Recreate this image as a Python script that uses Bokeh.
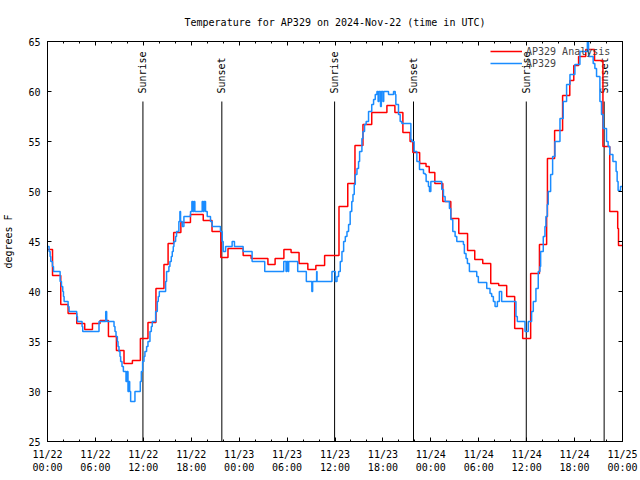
import math
from bokeh.plotting import figure
from bokeh.models import (FixedTicker, LinearAxis, Range1d, Legend, LegendItem,
                          CustomJSTickFormatter)
from bokeh.core.properties import value
from bokeh.embed import file_html
from bokeh.resources import INLINE

# ---------------- data (hours since 2024-11-22 00:00 UTC, degrees F) ----------------
title_text = "Temperature for AP329 on 2024-Nov-22 (time in UTC)"

analysis_hours = [
    0.0, 0.63, 1.66, 2.58, 3.66, 4.66, 5.63, 6.58, 7.63, 8.63,
    9.58, 10.63, 11.63, 12.58, 13.58, 14.58, 15.1, 15.8, 16.7, 17.9,
    19.5, 20.6, 21.7, 22.6, 24.5, 25.5, 27.6, 28.5, 29.6, 30.5,
    31.5, 32.6, 33.6, 34.7, 36.5, 37.6, 38.5, 39.5, 40.6, 42.5,
    43.5, 44.5, 45.4, 45.75, 46.6, 47.4, 47.8, 48.5, 49.5, 50.5,
    51.5, 52.6, 53.5, 54.5, 55.5, 56.5, 57.5, 58.5, 59.5, 60.5,
    61.6, 62.5, 62.6, 63.5, 64.5, 65.4, 65.9, 66.5, 67.4, 68.5,
    69.55, 70.4, 71.4, 71.5, 72.0]
analysis_temp = [
    44.2, 41.6, 38.7, 37.8, 36.8, 36.2, 36.8, 37.1, 35.5, 34.1,
    32.8, 33.1, 35.3, 36.9, 40.3, 42.7, 44.8, 45.9, 46.9, 47.7,
    47.1, 46.0, 43.4, 44.3, 43.6, 43.3, 42.7, 43.3, 44.2, 43.9,
    42.8, 42.2, 42.6, 43.6, 48.5, 50.8, 54.6, 56.7, 57.9, 58.6,
    57.9, 55.9, 55.0, 53.9, 52.8, 52.5, 51.9, 50.8, 49.0, 47.3,
    45.8, 44.1, 43.2, 42.8, 40.8, 40.6, 39.5, 36.3, 35.3, 41.8,
    44.7, 47.5, 53.3, 56.1, 59.6, 61.1, 62.6, 63.5, 64.2, 63.1,
    54.5, 48.0, 46.3, 44.6, 44.6]

obs_hours = [
    0.0, 0.2, 0.33, 0.41, 0.62, 0.75, 1.58, 1.75, 1.91, 2.0,
    2.08, 2.58, 2.7, 3.66, 3.75, 4.33, 4.41, 6.45, 7.29, 7.41,
    8.33, 8.45, 8.58, 8.75, 8.83, 8.95, 9.08, 9.16, 9.33, 9.5,
    9.83, 9.95, 10.08, 10.2, 10.29, 10.41, 10.95, 11.62, 11.75, 11.91,
    12.08, 12.2, 12.41, 12.58, 12.83, 13.0, 13.12, 13.54, 13.75, 13.87,
    14.0, 14.79, 14.91, 15.2, 15.33, 15.5, 15.62, 15.75, 15.83, 16.04,
    16.16, 16.45, 16.58, 16.66, 16.87, 17.08, 17.91, 18.08, 18.2, 18.33,
    18.45, 19.37, 19.5, 19.6, 19.79, 20.0, 20.41, 20.62, 21.66, 21.87,
    22.0, 22.3, 23.12, 23.41, 24.5, 25.62, 27.2, 29.58, 29.87, 29.95,
    30.12, 30.2, 31.33, 32.41, 33.1, 33.2, 33.7, 33.75, 35.62, 36.04,
    36.25, 36.45, 36.66, 36.87, 37.08, 37.29, 37.5, 37.7, 37.9, 38.1,
    38.25, 38.41, 38.54, 38.75, 38.95, 39.08, 39.37, 39.5, 39.7, 39.9,
    40.2, 40.6, 40.83, 41.04, 41.25, 41.4, 41.5, 41.7, 41.8, 42.0,
    42.1, 42.7, 43.33, 43.54, 43.62, 43.95, 44.16, 44.37, 45.5, 45.62,
    45.91, 46.25, 46.58, 47.08, 47.29, 47.41, 47.7, 47.83, 48.0, 49.37,
    49.58, 49.79, 50.33, 50.5, 50.75, 51.04, 51.25, 52.08, 52.2, 52.41,
    52.58, 52.83, 53.75, 53.95, 55.0, 55.41, 55.62, 55.83, 56.04, 56.33,
    56.58, 56.87, 58.66, 58.83, 59.79, 60.2, 60.62, 60.83, 61.16, 61.45,
    61.66, 61.75, 62.08, 62.29, 62.41, 62.58, 62.7, 63.0, 63.25, 63.54,
    64.17, 64.58, 65.0, 65.42, 66.04, 66.67, 67.6, 67.75, 68.33, 68.54,
    68.75, 69.17, 69.37, 69.58, 70.0, 70.2, 70.4, 70.8, 71.2, 71.33,
    71.45, 71.75, 72.0]
obs_temp = [
    44.5, 44.0, 43.5, 43.0, 42.5, 42.0, 41.0, 40.5, 40.0, 39.5,
    39.0, 38.5, 38.0, 37.5, 37.0, 36.5, 36.0, 37.0, 38.0, 37.0,
    36.5, 36.0, 35.5, 35.0, 34.5, 34.0, 33.5, 33.0, 32.5, 32.0,
    31.0, 32.0, 30.0, 31.0, 30.0, 29.0, 30.0, 31.0, 32.0, 33.0,
    33.5, 34.0, 34.5, 35.0, 36.0, 36.5, 37.0, 38.0, 39.0, 39.5,
    40.0, 41.0, 42.0, 42.5, 43.0, 43.5, 44.0, 44.5, 45.0, 45.5,
    46.0, 47.0, 48.0, 47.0, 46.5, 47.5, 48.0, 49.0, 48.0, 49.0,
    48.0, 49.0, 48.0, 49.0, 48.0, 47.5, 47.0, 46.5, 46.0, 45.0,
    44.0, 44.5, 45.0, 44.5, 44.0, 43.0, 42.0, 43.0, 42.0, 43.0,
    42.0, 43.0, 42.0, 41.0, 40.0, 41.0, 42.0, 41.0, 42.0, 41.0,
    41.5, 42.0, 43.0, 44.0, 45.0, 45.5, 46.0, 46.7, 48.0, 49.0,
    49.7, 50.7, 51.7, 52.3, 53.0, 54.0, 55.3, 56.0, 56.7, 57.0,
    58.0, 58.7, 59.2, 59.7, 60.0, 59.0, 60.0, 58.5, 60.0, 59.0,
    60.0, 59.7, 60.0, 59.7, 58.7, 57.7, 57.0, 56.8, 55.2, 55.0,
    54.0, 53.0, 52.2, 51.8, 51.7, 51.0, 50.5, 50.0, 51.0, 50.2,
    49.5, 49.0, 48.3, 47.2, 46.0, 45.5, 45.0, 44.7, 43.8, 43.3,
    42.8, 42.0, 41.5, 40.9, 40.3, 39.8, 39.5, 39.0, 38.5, 39.0,
    40.0, 39.0, 37.5, 37.0, 36.0, 37.0, 38.0, 39.0, 40.3, 42.0,
    42.5, 44.0, 45.5, 46.5, 47.5, 48.7, 50.0, 51.7, 53.5, 55.0,
    57.3, 59.0, 60.7, 61.7, 62.7, 64.0, 65.0, 63.5, 62.8, 62.3,
    61.5, 59.0, 57.7, 56.3, 55.0, 54.5, 53.7, 53.0, 52.0, 51.0,
    50.1, 50.5, 50.5]

event_hours = [11.95, 21.83, 35.95, 45.83, 59.95, 69.7]
event_names = ["Sunrise", "Sunset", "Sunrise", "Sunset", "Sunrise", "Sunset"]

x_tick_hours = [0, 6, 12, 18, 24, 30, 36, 42, 48, 54, 60, 66, 72]
x_tick_labels = ["11/22\n00:00", "11/22\n06:00", "11/22\n12:00", "11/22\n18:00",
                 "11/23\n00:00", "11/23\n06:00", "11/23\n12:00", "11/23\n18:00",
                 "11/24\n00:00", "11/24\n06:00", "11/24\n12:00", "11/24\n18:00",
                 "11/25\n00:00"]
x_minor_hours = list(range(0, 73, 2))
y_ticks = [25, 30, 35, 40, 45, 50, 55, 60, 65]

assert len(analysis_hours) == len(analysis_temp)
assert len(obs_hours) == len(obs_temp)

# ---------------- figure ----------------
FONT = "DejaVu Sans Mono"
RED = "#ff0000"
BLUE = "#1a8cff"

p = figure(frame_width=575, frame_height=400, output_backend="svg",
           toolbar_location=None, x_range=Range1d(0, 72), y_range=Range1d(25, 65),
           min_border_left=47, min_border_right=18, min_border_top=40,
           min_border_bottom=40, title=title_text)
p.background_fill_color = "white"
p.border_fill_color = "white"
p.outline_line_color = "black"
p.outline_line_width = 1
p.grid.visible = False

p.title.text_font = FONT
p.title.text_font_size = "10px"
p.title.text_font_style = "normal"
p.title.text_color = "black"
p.title.align = "center"
p.title.standoff = 28

def style_axis(ax):
    ax.axis_line_color = "black"
    ax.major_tick_line_color = "black"
    ax.minor_tick_line_color = "black"
    ax.major_tick_in = 4
    ax.major_tick_out = 0
    ax.minor_tick_in = 2
    ax.minor_tick_out = 0
    ax.major_label_text_font = FONT
    ax.major_label_text_font_size = "10px"
    ax.major_label_text_color = "black"

xticker = FixedTicker(ticks=x_tick_hours, minor_ticks=x_minor_hours)
yticker = FixedTicker(ticks=y_ticks, minor_ticks=[])

xa = p.xaxis[0]
xa.ticker = xticker
xa.major_label_overrides = {h: lab for h, lab in zip(x_tick_hours, x_tick_labels)}
style_axis(xa)
xa.major_label_standoff = 7

ya = p.yaxis[0]
ya.ticker = yticker
style_axis(ya)
ya.major_label_standoff = 7
ya.axis_label = "degrees F"
ya.axis_label_text_font = FONT
ya.axis_label_text_font_size = "10px"
ya.axis_label_text_font_style = "normal"
ya.axis_label_text_color = "black"
ya.axis_label_standoff = 11

blank = CustomJSTickFormatter(code="return ''")
top_ax = LinearAxis(ticker=xticker, formatter=blank, major_label_standoff=0)
style_axis(top_ax)
p.add_layout(top_ax, "above")
right_ax = LinearAxis(ticker=yticker, formatter=blank, major_label_standoff=0)
style_axis(right_ax)
p.add_layout(right_ax, "right")

# sunrise / sunset markers
p.segment(x0=event_hours, y0=25, x1=event_hours, y1=59, line_color="black", line_width=1)
p.text(x=event_hours, y=59.8, text=event_names, angle=math.pi / 2,
       text_align="left", text_baseline="middle", text_font=value(FONT),
       text_font_size="10px", text_color="black")

r_red = p.step(analysis_hours, analysis_temp, mode="after", line_color=RED, line_width=1.5)
r_blue = p.step(obs_hours, obs_temp, mode="after", line_color=BLUE, line_width=1.5)

legend = Legend(items=[LegendItem(label="AP329 Analysis", renderers=[r_red]),
                       LegendItem(label="AP329", renderers=[r_blue])],
                location=(443, 372), background_fill_alpha=0, border_line_alpha=0,
                label_text_font=FONT, label_text_font_size="10px",
                glyph_width=32, glyph_height=12, label_height=12, spacing=0,
                padding=0, margin=0, label_standoff=4)
p.add_layout(legend)

open("out.html", "w").write(file_html(p, INLINE))
